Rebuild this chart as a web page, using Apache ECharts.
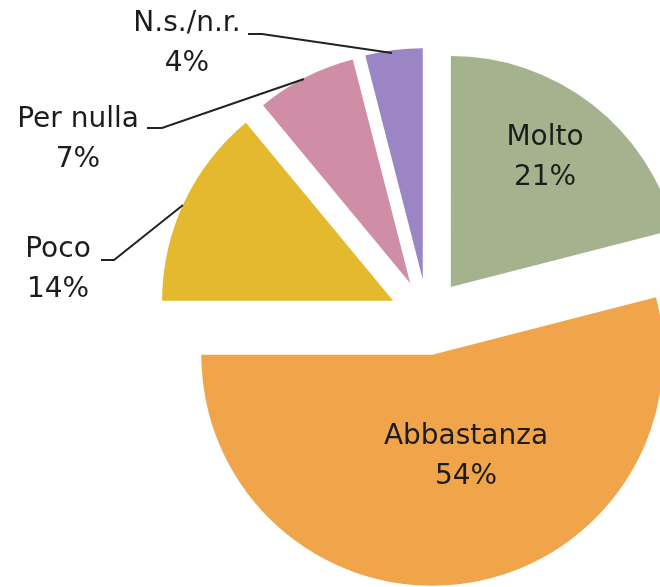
<!DOCTYPE html>
<html>
<head>
<meta charset="utf-8">
<script src="https://cdn.jsdelivr.net/npm/echarts@6/dist/echarts.min.js"></script>
<style>
  html, body { margin: 0; padding: 0; background: #ffffff; }
  #chart { width: 660px; height: 587px; }
</style>
</head>
<body>
<div id="chart"></div>
<script>
// Answer categories, clockwise from twelve o'clock
const categories = ['Molto', 'Abbastanza', 'Poco', 'Per nulla', 'N.s./n.r.'];
// Share of answers, in percent
const shares = [21, 54, 14, 7, 4];
const sliceColors = ['#a4b38d', '#f0a54a', '#e4b92d', '#d08ea6', '#9b85c4'];

// Where each label sits, and its leader line (null = label inside the slice)
const labelSpots = [
  { x: 545, y: 158, line: null },
  { x: 466, y: 457, line: null },
  { x: 58, y: 270, line: [[183, 205], [114, 260], [101, 260]] },
  { x: 78, y: 140, line: [[304, 79], [162, 128], [147, 128]] },
  { x: 187, y: 44, line: [[392, 53], [262, 34], [248, 34]] }
];

const textColor = '#1c1c1c';
const labelFont = '28px "DejaVu Sans"';

const graphics = [];
categories.forEach(function (name, i) {
  const spot = labelSpots[i];
  graphics.push({
    type: 'text',
    silent: true,
    z: 10,
    style: {
      text: name + '\n' + shares[i] + '%',
      x: spot.x,
      y: spot.y,
      align: 'center',
      verticalAlign: 'middle',
      font: labelFont,
      lineHeight: 40,
      fill: textColor
    }
  });
  if (spot.line) {
    graphics.push({
      type: 'polyline',
      silent: true,
      z: 10,
      shape: { points: spot.line },
      style: { stroke: '#222222', lineWidth: 2, fill: null }
    });
  }
});

const chart = echarts.init(document.getElementById('chart'), null, { renderer: 'canvas' });

chart.setOption({
  backgroundColor: '#ffffff',
  animation: false,
  series: [{
    type: 'pie',
    center: [427.5, 317],
    radius: 231,
    startAngle: 90,
    clockwise: true,
    selectedMode: 'multiple',
    selectedOffset: 38,
    emphasis: { disabled: true },
    label: { show: false },
    labelLine: { show: false },
    data: categories.map(function (name, i) {
      return {
        name: name,
        value: shares[i],
        selected: true,
        itemStyle: { color: sliceColors[i] }
      };
    })
  }],
  graphic: graphics
});
</script>
</body>
</html>
